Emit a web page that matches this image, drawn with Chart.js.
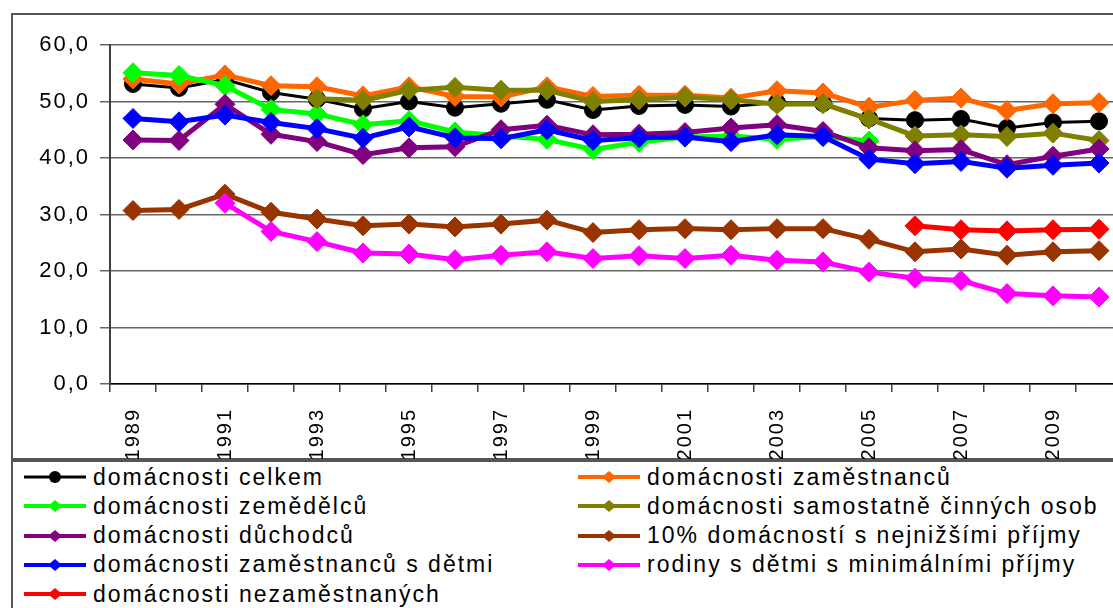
<!DOCTYPE html>
<html>
<head>
<meta charset="utf-8">
<script src="https://cdn.jsdelivr.net/npm/chart.js@4.4.1/dist/chart.umd.min.js"></script>
<style>
  html, body { margin: 0; padding: 0; background: #fff; overflow: hidden; width: 1113px; height: 608px; }
  #frame { position: absolute; left: 11px; top: 13px; width: 1200px; height: 445px; border: 2px solid #555; }
  #legendBox { position: absolute; left: 11px; top: 458px; width: 1200px; height: 200px; border: 2px solid #555; }
  #c { position: absolute; left: 0; top: 0; }
  .item { position: absolute; display: flex; align-items: center; height: 26px;
          font: 23px "Liberation Sans", Arial, sans-serif; letter-spacing: 2px; white-space: nowrap; color: #000; }
  .item canvas { margin-right: 7px; }
</style>
</head>
<body>
<div id="frame"></div>
<div id="legendBox"></div>
<canvas id="c" width="1140" height="459"></canvas>
<div id="legend"></div>
<script>
// ---------- DATA ----------
const years = ["1989", "1990", "1991", "1992", "1993", "1994", "1995", "1996", "1997", "1998", "1999",
  "2000", "2001", "2002", "2003", "2004", "2005", "2006", "2007", "2008", "2009", "2010"];

const celkem = [53.1, 52.4, 53.9, 51.6, 50.4, 48.7, 50.0, 48.9, 49.6, 50.3, 48.5,
  49.2, 49.4, 49.1, 49.8, 49.7, 47.0, 46.7, 46.9, 45.3, 46.3, 46.5];
const zamestnancu = [54.0, 53.1, 54.7, 52.8, 52.6, 51.0, 52.6, 50.9, 50.8, 52.6, 50.9,
  51.1, 51.1, 50.6, 51.9, 51.5, 49.0, 50.2, 50.6, 48.4, 49.6, 49.8];
const zemedelcu = [55.1, 54.6, 52.8, 48.6, 47.8, 45.9, 46.6, 44.6, 43.9, 43.3, 41.5,
  42.8, 43.7, 43.9, 43.3, 43.8, 43.0, null, null, null, null, null];
const samostatne = [null, null, null, null, 50.5, 50.2, 52.0, 52.5, 52.0, 52.0, 50.0,
  50.3, 50.8, 50.3, 49.5, 49.6, 46.9, 43.9, 44.1, 43.8, 44.4, 43.1];
const duchodcu = [43.2, 43.1, 49.5, 44.2, 42.9, 40.6, 41.8, 42.0, 45.0, 45.8, 44.1,
  44.2, 44.5, 45.3, 45.9, 44.7, 41.8, 41.3, 41.5, 38.8, 40.3, 41.6];
const nejnizsi = [30.7, 30.9, 33.6, 30.4, 29.2, 28.0, 28.3, 27.8, 28.3, 29.0, 26.8,
  27.3, 27.5, 27.3, 27.5, 27.5, 25.6, 23.4, 23.9, 22.8, 23.4, 23.6];
const zamDetmi = [47.0, 46.4, 47.6, 46.3, 45.2, 43.5, 45.5, 43.6, 43.4, 45.0, 43.1,
  43.6, 43.7, 42.9, 44.1, 43.8, 39.8, 39.0, 39.4, 38.2, 38.7, 39.1];
const rodinyMin = [null, null, 32.0, 27.0, 25.2, 23.2, 23.0, 22.0, 22.8, 23.4, 22.2,
  22.7, 22.2, 22.8, 21.9, 21.6, 19.8, 18.7, 18.3, 16.0, 15.6, 15.4];
const nezamestnani = [null, null, null, null, null, null, null, null, null, null, null,
  null, null, null, null, null, null, 28.0, 27.3, 27.1, 27.3, 27.4];

const yTicks = { min: 0, max: 60, step: 10 };

// ---------- SERIES (order = legend order, read row by row) ----------
const series = [
  { label: "domácnosti celkem", data: celkem, color: "#000000", width: 3, shape: "circle", r: 8.5 },
  { label: "domácnosti zaměstnanců", data: zamestnancu, color: "#FF6600", width: 5, shape: "rectRot", r: 10 },
  { label: "domácnosti zemědělců", data: zemedelcu, color: "#00FF00", width: 5, shape: "rectRot", r: 10 },
  { label: "domácnosti samostatně činných osob", data: samostatne, color: "#808000", width: 5, shape: "rectRot", r: 10 },
  { label: "domácnosti důchodců", data: duchodcu, color: "#800080", width: 5, shape: "rectRot", r: 10 },
  { label: "10% domácností s nejnižšími příjmy", data: nejnizsi, color: "#993300", width: 5, shape: "rectRot", r: 10 },
  { label: "domácnosti zaměstnanců s dětmi", data: zamDetmi, color: "#0000FF", width: 5, shape: "rectRot", r: 10 },
  { label: "rodiny s dětmi s minimálními příjmy", data: rodinyMin, color: "#FF00FF", width: 5, shape: "rectRot", r: 10 },
  { label: "domácnosti nezaměstnaných", data: nezamestnani, color: "#FF0000", width: 5, shape: "rectRot", r: 10 }
];

// wider glyph spacing, like the original rendering
const spacing = {
  id: "spacing",
  beforeLayout(ch) { ch.ctx.letterSpacing = "2px"; },
  beforeDraw(ch) { ch.ctx.letterSpacing = "2px"; }
};

const font = '"Liberation Sans", Arial, sans-serif';

new Chart(document.getElementById("c"), {
  type: "line",
  data: {
    labels: years,
    datasets: series.map((s, i) => ({
      label: s.label,
      data: s.data,
      borderColor: s.color,
      backgroundColor: s.color,
      borderWidth: s.width,
      pointStyle: s.shape,
      pointRadius: s.r,
      pointHoverRadius: s.r,
      pointBorderWidth: 1,
      pointBorderColor: s.color,
      pointBackgroundColor: s.color,
      tension: 0,
      order: -i   // later series drawn on top
    }))
  },
  options: {
    responsive: false,
    animation: false,
    devicePixelRatio: 1,
    layout: { padding: { top: 45, right: 18, left: 0, bottom: 0 } },
    plugins: { legend: { display: false }, tooltip: { enabled: false } },
    scales: {
      x: {
        offset: true,
        grid: { offset: true, drawOnChartArea: false, drawTicks: true, tickLength: 8, color: "#404040", lineWidth: 1.5 },
        border: { display: true, color: "#000", width: 1.5 },
        ticks: {
          autoSkip: false, maxRotation: 90, minRotation: 90, padding: 16, color: "#000",
          font: { family: font, size: 20 },
          callback(v, i) { return i % 2 === 0 ? this.getLabelForValue(v) : ""; }
        },
        afterFit(s) { s.height = 75; }
      },
      y: {
        min: yTicks.min, max: yTicks.max,
        grid: { color: "#666666", lineWidth: 1.5, tickLength: 10 },
        border: { color: "#404040", width: 2 },
        ticks: {
          stepSize: yTicks.step, padding: 10, color: "#000",
          font: { family: font, size: 22 },
          callback: v => v.toFixed(1).replace(".", ",")
        },
        afterFit(s) { s.width = 110; }
      }
    }
  },
  plugins: [spacing]
});

// ---------- LEGEND ----------
const legend = document.getElementById("legend");
series.forEach((s, i) => {
  const col = i % 2, row = Math.floor(i / 2);
  const item = document.createElement("div");
  item.className = "item";
  item.style.left = (col ? 578 : 24) + "px";
  item.style.top = (464 + row * 29.3) + "px";
  const cv = document.createElement("canvas");
  cv.width = 62; cv.height = 22;
  const g = cv.getContext("2d");
  g.strokeStyle = s.color; g.fillStyle = s.color;
  g.lineWidth = s.shape === "circle" ? 3 : 4;
  g.beginPath(); g.moveTo(0, 11); g.lineTo(62, 11); g.stroke();
  g.beginPath();
  if (s.shape === "circle") g.arc(31, 11, 6, 0, Math.PI * 2);
  else { g.moveTo(24, 11); g.lineTo(31, 5); g.lineTo(38, 11); g.lineTo(31, 17); g.closePath(); }
  g.fill();
  item.appendChild(cv);
  const t = document.createElement("span");
  t.innerText = s.label;
  item.appendChild(t);
  legend.appendChild(item);
});
</script>
</body>
</html>
